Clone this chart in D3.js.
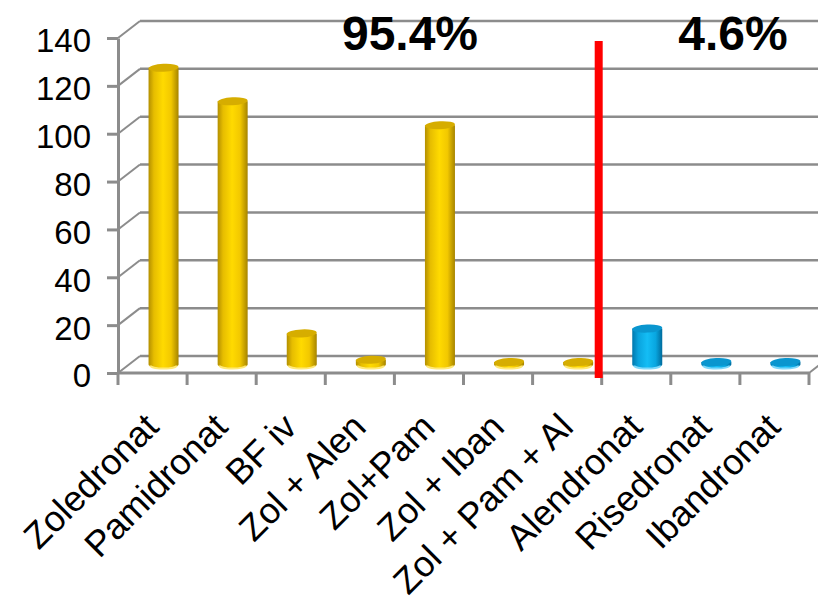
<!DOCTYPE html>
<html>
<head>
<meta charset="utf-8">
<script src="https://cdn.jsdelivr.net/npm/d3@7"></script>
<style>
  html, body { margin: 0; padding: 0; background: #fff; }
  svg { display: block; font-family: Arial, "Liberation Sans", sans-serif; }
</style>
</head>
<body>
<svg id="chart" width="818" height="601"></svg>
<script>
// Bisphosphonate usage counts, IV preparations (gold) vs oral (blue)
const categories = ["Zoledronat", "Pamidronat", "BF iv", "Zol + Alen", "Zol+Pam",
                    "Zol + Iban", "Zol + Pam + Al", "Alendronat", "Risedronat", "Ibandronat"];
const values = [124, 110, 13, 2, 100, 1, 1, 15, 1, 1];
const groups = ["iv", "iv", "iv", "iv", "iv", "iv", "iv", "oral", "oral", "oral"];
const yTicks = [0, 20, 40, 60, 80, 100, 120, 140];

const svg = d3.select("#chart");

// 3D box geometry: front plane and depth offset of the back wall
const plotLeft = 118, plotRight = 809, plotTop = 38, plotBottom = 373;
const depthX = 22, depthY = -17;

const x = d3.scaleBand().domain(categories).range([plotLeft, plotRight]).padding(0);
const y = d3.scaleLinear().domain([0, 140]).range([plotBottom, plotTop]);

const gridColor = "#8c8c8c";

// Back-wall gridlines
svg.append("g").selectAll("line").data(yTicks).join("line")
  .attr("x1", plotLeft + depthX).attr("x2", plotRight + depthX + 10)
  .attr("y1", d => y(d) + depthY).attr("y2", d => y(d) + depthY)
  .attr("stroke", gridColor).attr("stroke-width", 2.5);

// Left side wall lines joining front axis to back wall
svg.append("g").selectAll("line").data(yTicks).join("line")
  .attr("x1", plotLeft).attr("x2", plotLeft + depthX)
  .attr("y1", d => y(d)).attr("y2", d => y(d) + depthY)
  .attr("stroke", gridColor).attr("stroke-width", 2);

// Floor: front edge and right edge
svg.append("line")
  .attr("x1", plotLeft).attr("x2", plotRight).attr("y1", plotBottom).attr("y2", plotBottom)
  .attr("stroke", gridColor).attr("stroke-width", 3);
svg.append("line")
  .attr("x1", plotRight).attr("x2", plotRight + depthX).attr("y1", plotBottom).attr("y2", plotBottom + depthY)
  .attr("stroke", gridColor).attr("stroke-width", 2);

// Category tick marks at band boundaries
const boundaries = categories.map(c => x(c)).concat([plotRight]);
svg.append("g").selectAll("line").data(boundaries).join("line")
  .attr("x1", d => d).attr("x2", d => d)
  .attr("y1", plotBottom).attr("y2", plotBottom + 12)
  .attr("stroke", gridColor).attr("stroke-width", 3);

// Value axis
const yAxis = svg.append("g")
  .attr("transform", `translate(${plotLeft},0)`)
  .call(d3.axisLeft(y).tickValues(yTicks).tickSize(11).tickSizeOuter(0).tickPadding(16));
yAxis.select(".domain").attr("stroke", gridColor).attr("stroke-width", 3);
yAxis.selectAll(".tick line").attr("stroke", gridColor).attr("stroke-width", 3);
yAxis.selectAll(".tick text")
  .attr("font-size", 33).attr("fill", "#000")
  .attr("font-family", "Arial, 'Liberation Sans', sans-serif")
  .attr("dy", "0.42em");

// Gradients for the cylinders
const defs = svg.append("defs");
const palettes = {
  iv:   { stops: [["0%", "#b38f00"], ["18%", "#e6bd00"], ["48%", "#ffda00"], ["75%", "#f2c800"], ["100%", "#a68400"]],
          cap: "#d6ad00", rim: "#ffe978" },
  oral: { stops: [["0%", "#0077ad"], ["20%", "#0aa3dd"], ["50%", "#14bdf5"], ["78%", "#08a6e0"], ["100%", "#006b9c"]],
          cap: "#0a96cf", rim: "#7fd8fa" }
};
Object.entries(palettes).forEach(([key, p]) => {
  const g = defs.append("linearGradient").attr("id", "grad-" + key)
    .attr("x1", "0%").attr("x2", "100%").attr("y1", "0%").attr("y2", "0%");
  p.stops.forEach(([o, c]) => g.append("stop").attr("offset", o).attr("stop-color", c));
});

// Cylinders sit halfway between front and back planes
const midX = depthX / 2, midY = depthY / 2;
const rx = 15, ry = 4;
const data = categories.map((c, i) => ({ c, v: values[i], g: groups[i] }));

const bars = svg.append("g").selectAll("g").data(data).join("g");
bars.each(function(d) {
  const g = d3.select(this);
  const cx = x(d.c) + x.bandwidth() / 2 + midX;
  const yb = y(0) + midY;
  const yt = y(d.v) + midY;
  const p = palettes[d.g];
  g.append("path")
    .attr("d", `M${cx - rx},${yt} L${cx - rx},${yb} A${rx},${ry} 0 0 0 ${cx + rx},${yb} L${cx + rx},${yt} Z`)
    .attr("fill", `url(#grad-${d.g})`);
  g.append("path")
    .attr("d", `M${cx - rx + 2},${yb + 1} A${rx - 2},${ry - 1} 0 0 0 ${cx + rx - 2},${yb + 1}`)
    .attr("fill", "none").attr("stroke", p.rim).attr("stroke-width", 2);
  g.append("ellipse")
    .attr("cx", cx).attr("cy", yt).attr("rx", rx).attr("ry", ry)
    .attr("transform", `rotate(-3 ${cx} ${yt})`)
    .attr("fill", p.cap);
});

// Divider between IV and oral preparations
const splitX = x(categories[groups.indexOf("oral")]) - 3;
svg.append("line")
  .attr("x1", splitX).attr("x2", splitX).attr("y1", 41).attr("y2", 378)
  .attr("stroke", "#ff0000").attr("stroke-width", 8);

// Group shares
const total = d3.sum(values);
const share = grp => d3.sum(values.filter((v, i) => groups[i] === grp)) / total;
const pct = d3.format(".1%");
svg.append("text").attr("x", 410).attr("y", 50).attr("text-anchor", "middle")
  .attr("font-size", 48).attr("font-weight", "bold").attr("fill", "#000")
  .text(pct(share("iv")));
svg.append("text").attr("x", 733).attr("y", 50).attr("text-anchor", "middle")
  .attr("font-size", 48).attr("font-weight", "bold").attr("fill", "#000")
  .text(pct(share("oral")));

// Rotated category labels
svg.append("g").selectAll("text").data(categories).join("text")
  .attr("transform", c => `translate(${x(c) + x.bandwidth() / 2 + 8},${429}) rotate(-45)`)
  .attr("text-anchor", "end")
  .attr("font-size", 36).attr("fill", "#000")
  .text(c => c);
</script>
</body>
</html>
